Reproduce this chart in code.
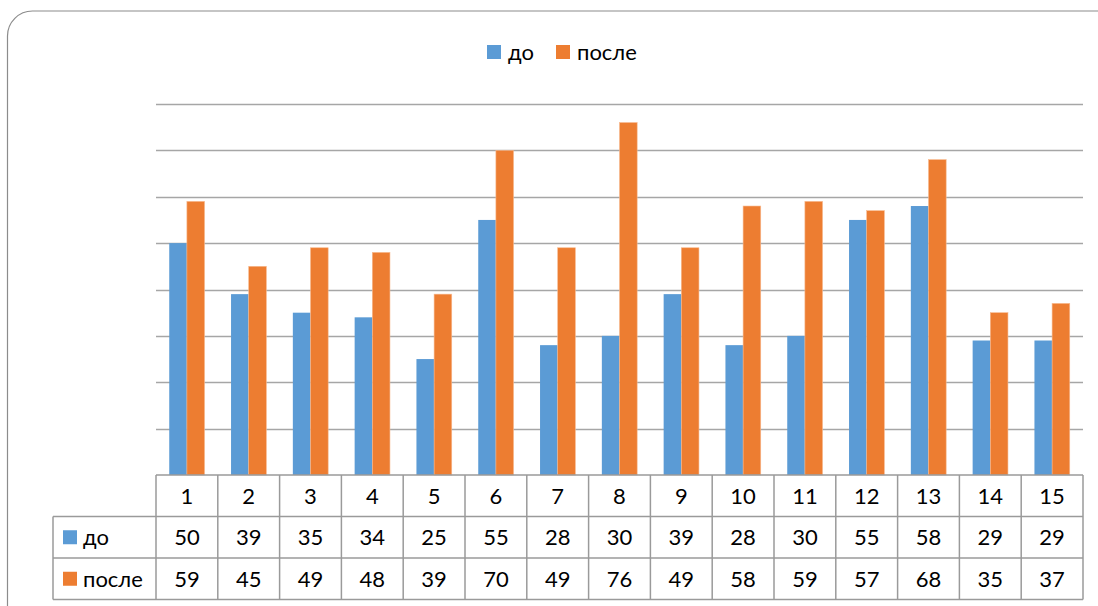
<!DOCTYPE html>
<html>
<head>
<meta charset="utf-8">
<script src="https://cdn.jsdelivr.net/npm/d3@7"></script>
<style>
  body { margin: 0; background: #fff; }
  text { font-family: Lato, "Open Sans", sans-serif; fill: #000; }
</style>
</head>
<body>
<div id="chart"></div>
<script>
"use strict";

const categories = ["1", "2", "3", "4", "5", "6", "7", "8", "9", "10", "11", "12", "13", "14", "15"];
const seriesNames = ["до", "после"];
const before = [50, 39, 35, 34, 25, 55, 28, 30, 39, 28, 30, 55, 58, 29, 29];
const after = [59, 45, 49, 48, 39, 70, 49, 76, 49, 58, 59, 57, 68, 35, 37];
const yTicks = [0, 10, 20, 30, 40, 50, 60, 70, 80];

const width = 1098;
const height = 606;
const colors = ["#5b9bd5", "#ed7d31"];
const fontSize = "22px";

const plot = { left: 156, right: 1083, top: 104, bottom: 475 };
const rowH = 41.5;

const svg = d3
  .select("#chart")
  .append("svg")
  .attr("width", width)
  .attr("height", height);

// cadre arrondi
svg
  .append("rect")
  .attr("x", 7.5)
  .attr("y", 11)
  .attr("width", 1120)
  .attr("height", 640)
  .attr("rx", 25)
  .attr("fill", "#fff")
  .attr("stroke", "#8c8c8c")
  .attr("stroke-width", 1.2);

const x = d3
  .scaleBand()
  .domain(categories)
  .range([plot.left, plot.right]);

const y = d3
  .scaleLinear()
  .domain([0, 80])
  .range([plot.bottom, plot.top]);

// lignes de grille
svg
  .append("g")
  .selectAll("line")
  .data(yTicks.slice(1))
  .join("line")
  .attr("x1", plot.left)
  .attr("x2", plot.right)
  .attr("y1", (d) => Math.round(y(d)) + 0.5)
  .attr("y2", (d) => Math.round(y(d)) + 0.5)
  .attr("stroke", "#a6a6a6")
  .attr("stroke-width", 1.3);

// barres (gap width 150%)
const barW = x.bandwidth() / 3.5;
const data = categories.map((c, i) => ({ cat: c, values: [before[i], after[i]] }));

const groups = svg
  .append("g")
  .selectAll("g")
  .data(data)
  .join("g")
  .attr("transform", (d) => `translate(${x(d.cat) + x.bandwidth() / 2 - barW}, 0)`);

groups
  .selectAll("rect")
  .data((d) => d.values.map((v, k) => ({ v, k })))
  .join("rect")
  .attr("x", (d) => d.k * barW)
  .attr("y", (d) => y(d.v))
  .attr("width", barW)
  .attr("height", (d) => y(0) - y(d.v))
  .attr("fill", (d) => colors[d.k])
  .attr("stroke", (d) => (d.k === 1 ? "#f7b98f" : "none"))
  .attr("stroke-width", 0.6);

// légende du haut
const legend = svg.append("g").attr("transform", "translate(487, 45)");
const legendX = [0, 69];
seriesNames.forEach((name, k) => {
  legend
    .append("rect")
    .attr("x", legendX[k])
    .attr("y", 0)
    .attr("width", 14)
    .attr("height", 14)
    .attr("fill", colors[k]);
  legend
    .append("text")
    .attr("x", legendX[k] + 21)
    .attr("y", 15)
    .style("font-size", fontSize)
    .text(name);
});

// tableau de données
const table = svg.append("g");
const tableLeft = 53;
const rowsY = [plot.bottom, plot.bottom + rowH, plot.bottom + 2 * rowH, plot.bottom + 3 * rowH];
const gridColor = "#9a9a9a";

// lignes horizontales
table
  .selectAll(".hline")
  .data(rowsY)
  .join("line")
  .attr("x1", (d, i) => (i === 0 ? plot.left : tableLeft))
  .attr("x2", plot.right)
  .attr("y1", (d) => d)
  .attr("y2", (d) => d)
  .attr("stroke", gridColor)
  .attr("stroke-width", 1.5);

// lignes verticales
const colEdges = categories.map((c) => x(c)).concat([plot.right]);
table
  .selectAll(".vline")
  .data(colEdges)
  .join("line")
  .attr("x1", (d) => d)
  .attr("x2", (d) => d)
  .attr("y1", rowsY[0])
  .attr("y2", rowsY[3])
  .attr("stroke", gridColor)
  .attr("stroke-width", 1.5);

table
  .append("line")
  .attr("x1", tableLeft)
  .attr("x2", tableLeft)
  .attr("y1", rowsY[1])
  .attr("y2", rowsY[3])
  .attr("stroke", gridColor)
  .attr("stroke-width", 1.5);

// en-têtes des catégories
table
  .selectAll(".cat")
  .data(categories)
  .join("text")
  .attr("x", (d) => x(d) + x.bandwidth() / 2)
  .attr("y", rowsY[0] + rowH / 2 + 8)
  .attr("text-anchor", "middle")
  .style("font-size", fontSize)
  .text((d) => d);

// valeurs
[before, after].forEach((vals, k) => {
  table
    .append("g")
    .selectAll("text")
    .data(vals)
    .join("text")
    .attr("x", (d, i) => x(categories[i]) + x.bandwidth() / 2)
    .attr("y", rowsY[k + 1] + rowH / 2 + 8)
    .attr("text-anchor", "middle")
    .style("font-size", fontSize)
    .text((d) => d);

  table
    .append("rect")
    .attr("x", 63)
    .attr("y", rowsY[k + 1] + rowH / 2 - 7)
    .attr("width", 14)
    .attr("height", 14)
    .attr("fill", colors[k]);

  table
    .append("text")
    .attr("x", 83)
    .attr("y", rowsY[k + 1] + rowH / 2 + 8)
    .style("font-size", fontSize)
    .text(seriesNames[k]);
});
</script>
</body>
</html>
